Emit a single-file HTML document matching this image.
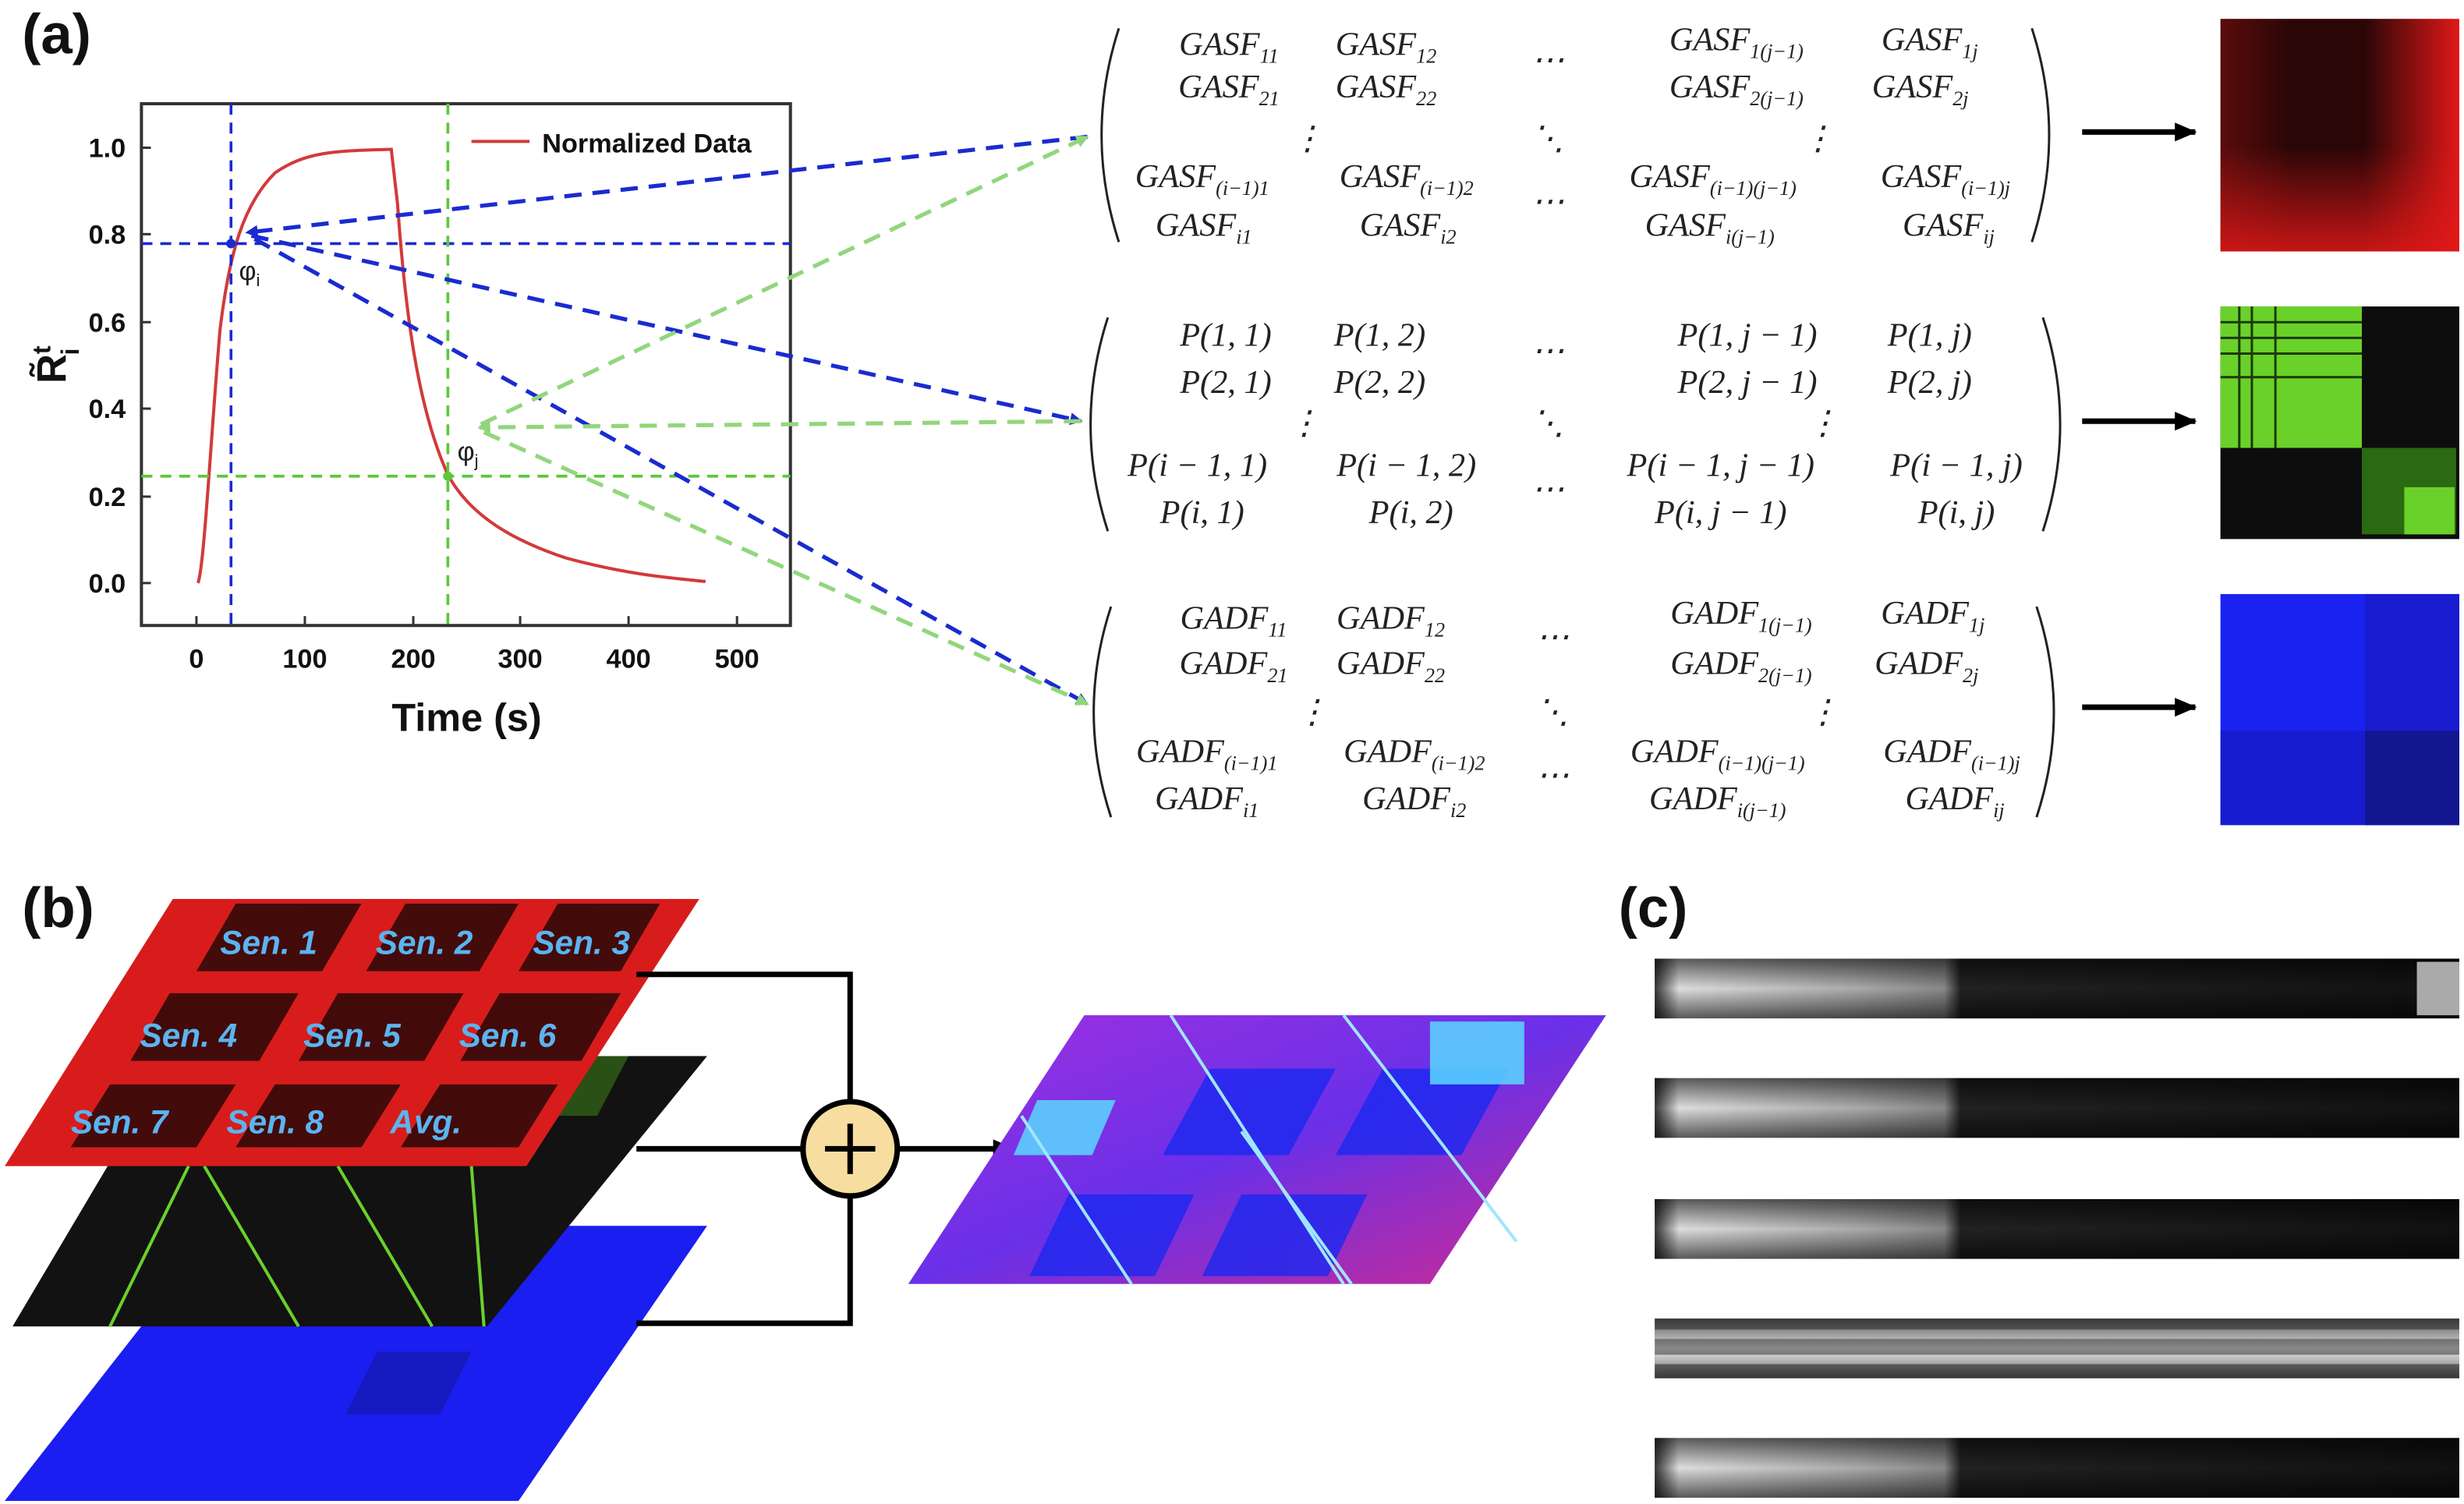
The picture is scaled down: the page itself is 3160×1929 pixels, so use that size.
<!DOCTYPE html>
<html><head><meta charset="utf-8"><style>
html,body{margin:0;padding:0;background:#fff;}
svg{display:block;}
.m{font-family:"Liberation Serif",serif;font-style:italic;font-size:21px;fill:#222;}
.s{font-size:13px;}
.lab{font-family:"Liberation Sans",sans-serif;font-weight:bold;font-size:36px;fill:#111;}
.tk{font-family:"Liberation Sans",sans-serif;font-weight:bold;font-size:17px;fill:#111;}
.sen{font-family:"Liberation Sans",sans-serif;font-weight:bold;font-style:italic;font-size:21px;fill:#5ab4f0;}
</style></head><body>
<svg width="3160" height="1929" viewBox="0 0 1568 957" preserveAspectRatio="none" xmlns="http://www.w3.org/2000/svg">
<defs>
<marker id="ab" markerWidth="8" markerHeight="8" refX="7" refY="4" orient="auto" markerUnits="userSpaceOnUse"><path d="M0,0 L8,4 L0,8 Z" fill="#1a2bd0"/></marker>
<marker id="ag" markerWidth="8" markerHeight="8" refX="7" refY="4" orient="auto" markerUnits="userSpaceOnUse"><path d="M0,0 L8,4 L0,8 Z" fill="#8fd67a"/></marker>
<marker id="ak" markerWidth="14" markerHeight="14" refX="13" refY="7" orient="auto" markerUnits="userSpaceOnUse"><path d="M0,1 L14,7 L0,13 Z" fill="#000"/></marker>
<linearGradient id="rgx" x1="0" x2="1"><stop offset="0" stop-color="#5a0c0c"/><stop offset="0.3" stop-color="#2a0606"/><stop offset="0.6" stop-color="#2a0606"/><stop offset="1" stop-color="#e01818"/></linearGradient>
<linearGradient id="rgy" x1="0" y1="0" x2="0" y2="1"><stop offset="0" stop-color="#e01818" stop-opacity="0"/><stop offset="0.55" stop-color="#e01818" stop-opacity="0"/><stop offset="1" stop-color="#e01818" stop-opacity="0.85"/></linearGradient>
<linearGradient id="gs1" x1="0" x2="1"><stop offset="0" stop-color="#333"/><stop offset="0.03" stop-color="#ddd"/><stop offset="0.25" stop-color="#aaa"/><stop offset="0.36" stop-color="#888"/><stop offset="0.38" stop-color="#222"/><stop offset="1" stop-color="#111"/></linearGradient>
<linearGradient id="gv" x1="0" y1="0" x2="0" y2="1"><stop offset="0" stop-color="#000" stop-opacity="0.6"/><stop offset="0.5" stop-color="#000" stop-opacity="0"/><stop offset="1" stop-color="#000" stop-opacity="0.6"/></linearGradient>
<linearGradient id="fus" x1="0" y1="0" x2="1" y2="1"><stop offset="0" stop-color="#a030e0"/><stop offset="0.5" stop-color="#6a30e8"/><stop offset="1" stop-color="#d02a90"/></linearGradient>
</defs>

<text class="lab" x="14" y="34">(a)</text>
<text class="lab" x="14" y="590">(b)</text>
<text class="lab" x="1030" y="590">(c)</text>

<rect x="90" y="66" width="413" height="332" fill="none" stroke="#333" stroke-width="2"/>
<g class="tk" text-anchor="end">
<text x="80" y="100">1.0</text><text x="80" y="155">0.8</text><text x="80" y="211">0.6</text><text x="80" y="266">0.4</text><text x="80" y="322">0.2</text><text x="80" y="377">0.0</text>
</g>
<g stroke="#333" stroke-width="1.5">
<line x1="90" y1="94" x2="96" y2="94"/><line x1="90" y1="149" x2="96" y2="149"/><line x1="90" y1="205" x2="96" y2="205"/><line x1="90" y1="260" x2="96" y2="260"/><line x1="90" y1="316" x2="96" y2="316"/><line x1="90" y1="371" x2="96" y2="371"/>
<line x1="125" y1="398" x2="125" y2="392"/><line x1="194" y1="398" x2="194" y2="392"/><line x1="263" y1="398" x2="263" y2="392"/><line x1="331" y1="398" x2="331" y2="392"/><line x1="400" y1="398" x2="400" y2="392"/><line x1="469" y1="398" x2="469" y2="392"/>
</g>
<g class="tk" text-anchor="middle">
<text x="125" y="425">0</text><text x="194" y="425">100</text><text x="263" y="425">200</text><text x="331" y="425">300</text><text x="400" y="425">400</text><text x="469" y="425">500</text>
</g>
<text x="297" y="465" text-anchor="middle" font-family="Liberation Sans,sans-serif" font-weight="bold" font-size="25" fill="#111">Time (s)</text>
<text transform="translate(42,232) rotate(-90)" text-anchor="middle" font-family="Liberation Sans,sans-serif" font-weight="bold" font-size="26" fill="#111">R̃<tspan font-size="16" dy="-10">t</tspan><tspan font-size="16" dx="-6" dy="18">i</tspan></text>
<line x1="300" y1="90" x2="337" y2="90" stroke="#d23a3a" stroke-width="2"/>
<text x="345" y="97" font-family="Liberation Sans,sans-serif" font-weight="bold" font-size="17" fill="#111">Normalized Data</text>
<path d="M126,371 C130,360 134,280 140,210 C146,160 155,130 175,110 C195,96 215,96 249,95 L253,130 C258,200 266,260 285,302 C300,330 330,345 360,355 C400,366 430,368 449,370" fill="none" stroke="#d23a3a" stroke-width="2"/>
<g stroke-dasharray="7,5" stroke-width="1.8" fill="none">
<line x1="147" y1="66" x2="147" y2="398" stroke="#1a2bd0"/>
<line x1="90" y1="155" x2="503" y2="155" stroke="#1a2bd0"/>
<line x1="285" y1="66" x2="285" y2="398" stroke="#5cc83a"/>
<line x1="90" y1="303" x2="503" y2="303" stroke="#5cc83a"/>
</g>
<circle cx="147" cy="155" r="3" fill="#1a2bd0"/><circle cx="285" cy="303" r="3" fill="#5cc83a"/>
<text x="152" y="178" font-family="Liberation Sans,sans-serif" font-size="17" fill="#222">φ<tspan font-size="11" dy="4">i</tspan></text>
<text x="291" y="293" font-family="Liberation Sans,sans-serif" font-size="17" fill="#222">φ<tspan font-size="11" dy="4">j</tspan></text>

<g stroke-dasharray="11,7" stroke-width="2.6" fill="none">
<line x1="692" y1="87" x2="157" y2="148" stroke="#1a2bd0" marker-end="url(#ab)"/>
<line x1="160" y1="150" x2="688" y2="268" stroke="#1a2bd0" marker-end="url(#ab)"/>
<line x1="162" y1="152" x2="692" y2="448" stroke="#1a2bd0" marker-end="url(#ab)"/>
<line x1="306" y1="270" x2="692" y2="87" stroke="#92d67c" marker-end="url(#ag)"/>
<line x1="688" y1="268" x2="305" y2="272" stroke="#92d67c" marker-end="url(#ag)"/>
<line x1="308" y1="275" x2="692" y2="448" stroke="#92d67c" marker-end="url(#ag)"/>
</g>

<g fill="none" stroke="#222" stroke-width="1.5">
<path d="M712,18 Q690,86 712,154"/><path d="M1293,18 Q1315,86 1293,154"/>
<path d="M705,202 Q683,270 705,338"/><path d="M1300,202 Q1322,270 1300,338"/>
<path d="M707,386 Q685,453 707,520"/><path d="M1296,386 Q1318,453 1296,520"/>
</g>
<g class="m" text-anchor="middle">
<text x="782" y="35">GASF<tspan class="s" dy="5">11</tspan></text>
<text x="882" y="35">GASF<tspan class="s" dy="5">12</tspan></text>
<text x="985" y="45">⋯</text>
<text x="1105" y="32">GASF<tspan class="s" dy="5">1(j−1)</tspan></text>
<text x="1228" y="32">GASF<tspan class="s" dy="5">1j</tspan></text>
<text x="782" y="62">GASF<tspan class="s" dy="5">21</tspan></text>
<text x="882" y="62">GASF<tspan class="s" dy="5">22</tspan></text>
<text x="1105" y="62">GASF<tspan class="s" dy="5">2(j−1)</tspan></text>
<text x="1222" y="62">GASF<tspan class="s" dy="5">2j</tspan></text>
<text x="832" y="95">⋮</text><text x="985" y="95">⋱</text><text x="1157" y="95">⋮</text>
<text x="765" y="119">GASF<tspan class="s" dy="5">(i−1)1</tspan></text>
<text x="895" y="119">GASF<tspan class="s" dy="5">(i−1)2</tspan></text>
<text x="985" y="135">⋯</text>
<text x="1090" y="119">GASF<tspan class="s" dy="5">(i−1)(j−1)</tspan></text>
<text x="1238" y="119">GASF<tspan class="s" dy="5">(i−1)j</tspan></text>
<text x="766" y="150">GASF<tspan class="s" dy="5">i1</tspan></text>
<text x="896" y="150">GASF<tspan class="s" dy="5">i2</tspan></text>
<text x="1088" y="150">GASF<tspan class="s" dy="5">i(j−1)</tspan></text>
<text x="1240" y="150">GASF<tspan class="s" dy="5">ij</tspan></text>

<text x="780" y="220">P(1, 1)</text><text x="878" y="220">P(1, 2)</text><text x="985" y="230">⋯</text>
<text x="1112" y="220">P(1, j − 1)</text><text x="1228" y="220">P(1, j)</text>
<text x="780" y="250">P(2, 1)</text><text x="878" y="250">P(2, 2)</text>
<text x="1112" y="250">P(2, j − 1)</text><text x="1228" y="250">P(2, j)</text>
<text x="830" y="276">⋮</text><text x="985" y="276">⋱</text><text x="1160" y="276">⋮</text>
<text x="762" y="303">P(i − 1, 1)</text><text x="895" y="303">P(i − 1, 2)</text><text x="985" y="318">⋯</text>
<text x="1095" y="303">P(i − 1, j − 1)</text><text x="1245" y="303">P(i − 1, j)</text>
<text x="765" y="333">P(i, 1)</text><text x="898" y="333">P(i, 2)</text>
<text x="1095" y="333">P(i, j − 1)</text><text x="1245" y="333">P(i, j)</text>

<text x="785" y="400">GADF<tspan class="s" dy="5">11</tspan></text>
<text x="885" y="400">GADF<tspan class="s" dy="5">12</tspan></text>
<text x="988" y="412">⋯</text>
<text x="1108" y="397">GADF<tspan class="s" dy="5">1(j−1)</tspan></text>
<text x="1230" y="397">GADF<tspan class="s" dy="5">1j</tspan></text>
<text x="785" y="429">GADF<tspan class="s" dy="5">21</tspan></text>
<text x="885" y="429">GADF<tspan class="s" dy="5">22</tspan></text>
<text x="1108" y="429">GADF<tspan class="s" dy="5">2(j−1)</tspan></text>
<text x="1226" y="429">GADF<tspan class="s" dy="5">2j</tspan></text>
<text x="835" y="460">⋮</text><text x="988" y="460">⋱</text><text x="1160" y="460">⋮</text>
<text x="768" y="485">GADF<tspan class="s" dy="5">(i−1)1</tspan></text>
<text x="900" y="485">GADF<tspan class="s" dy="5">(i−1)2</tspan></text>
<text x="988" y="500">⋯</text>
<text x="1093" y="485">GADF<tspan class="s" dy="5">(i−1)(j−1)</tspan></text>
<text x="1242" y="485">GADF<tspan class="s" dy="5">(i−1)j</tspan></text>
<text x="768" y="515">GADF<tspan class="s" dy="5">i1</tspan></text>
<text x="900" y="515">GADF<tspan class="s" dy="5">i2</tspan></text>
<text x="1093" y="515">GADF<tspan class="s" dy="5">i(j−1)</tspan></text>
<text x="1244" y="515">GADF<tspan class="s" dy="5">ij</tspan></text>
</g>

<g stroke="#000" stroke-width="3.5" marker-end="url(#ak)">
<line x1="1325" y1="84" x2="1397" y2="84"/><line x1="1325" y1="268" x2="1397" y2="268"/><line x1="1325" y1="450" x2="1397" y2="450"/>
</g>

<rect x="1413" y="12" width="152" height="148" fill="url(#rgx)"/>
<rect x="1413" y="12" width="152" height="148" fill="url(#rgy)"/>
<rect x="1413" y="195" width="152" height="148" fill="#0d0d0d"/>
<rect x="1413" y="195" width="90" height="90" fill="#6ad12a"/>
<g stroke="#1a3a08" stroke-width="1.5"><line x1="1413" y1="205" x2="1503" y2="205"/><line x1="1413" y1="215" x2="1503" y2="215"/><line x1="1413" y1="225" x2="1503" y2="225"/><line x1="1413" y1="240" x2="1503" y2="240"/><line x1="1425" y1="195" x2="1425" y2="285"/><line x1="1433" y1="195" x2="1433" y2="285"/><line x1="1448" y1="195" x2="1448" y2="285"/></g>
<rect x="1503" y="285" width="60" height="55" fill="#2a6a12"/>
<rect x="1530" y="310" width="32" height="30" fill="#6ad12a"/>
<rect x="1413" y="378" width="152" height="147" fill="#1a22f0"/>
<rect x="1505" y="378" width="60" height="147" fill="#1a1cd0"/>
<rect x="1413" y="465" width="152" height="60" fill="#161cc8" opacity="0.8"/>
<rect x="1505" y="465" width="60" height="60" fill="#121690"/>

<polygon points="140,780 450,780 330,955 3,955" fill="#1a1ef0"/>
<polygon points="240,860 300,860 280,900 220,900" fill="#1418a0" opacity="0.6"/>
<polygon points="110,672 450,672 310,844 8,844" fill="#121212"/>
<g stroke="#6ad12a" stroke-width="2"><line x1="120" y1="742" x2="70" y2="844"/><line x1="215" y1="742" x2="275" y2="844"/><line x1="300" y1="742" x2="308" y2="844"/><line x1="130" y1="742" x2="190" y2="844"/></g>
<polygon points="350,672 400,672 380,710 335,710" fill="#3a7a18" opacity="0.6"/>
<polygon points="110,572 445,572 335,742 3,742" fill="#d81c1c"/>
<g fill="#2a0808" opacity="0.85">
<polygon points="150,575 230,575 205,618 125,618"/><polygon points="258,575 330,575 305,618 233,618"/><polygon points="355,575 420,575 395,618 330,618"/>
<polygon points="108,632 190,632 165,675 83,675"/><polygon points="215,632 295,632 270,675 190,675"/><polygon points="318,632 395,632 370,675 293,675"/>
<polygon points="70,690 150,690 125,730 45,730"/><polygon points="175,690 255,690 230,730 150,730"/><polygon points="280,690 355,690 330,730 255,730"/>
</g>
<g class="sen" text-anchor="middle">
<text x="171" y="607">Sen. 1</text><text x="270" y="607">Sen. 2</text><text x="370" y="607">Sen. 3</text>
<text x="120" y="666">Sen. 4</text><text x="224" y="666">Sen. 5</text><text x="323" y="666">Sen. 6</text>
<text x="76" y="721">Sen. 7</text><text x="175" y="721">Sen. 8</text><text x="271" y="721">Avg.</text>
</g>
<g stroke="#000" stroke-width="3.5" fill="none">
<polyline points="405,620 541,620 541,700"/><polyline points="405,842 541,842 541,762"/>
<line x1="405" y1="731" x2="511" y2="731"/>
<line x1="571" y1="731" x2="645" y2="731" marker-end="url(#ak)"/>
</g>
<circle cx="541" cy="731" r="30" fill="#f7dda0" stroke="#000" stroke-width="3.5"/>
<line x1="525" y1="731" x2="557" y2="731" stroke="#000" stroke-width="3.5"/><line x1="541" y1="715" x2="541" y2="747" stroke="#000" stroke-width="3.5"/>

<polygon points="690,646 1022,646 910,817 578,817" fill="url(#fus)"/>
<g fill="#1a28f0" opacity="0.8"><polygon points="770,680 850,680 820,735 740,735"/><polygon points="880,680 960,680 930,735 850,735"/><polygon points="680,760 760,760 735,812 655,812"/><polygon points="790,760 870,760 845,812 765,812"/></g>
<g fill="#5ad8ff" opacity="0.85"><rect x="910" y="650" width="60" height="40"/><polygon points="660,700 710,700 695,735 645,735"/></g>
<g stroke="#9fe6ff" stroke-width="2"><line x1="745" y1="646" x2="855" y2="817"/><line x1="855" y1="646" x2="965" y2="790"/><line x1="650" y1="710" x2="720" y2="817"/><line x1="790" y1="720" x2="860" y2="817"/></g>

<g>
<rect x="1053" y="610" width="512" height="38" fill="url(#gs1)"/><rect x="1053" y="610" width="512" height="38" fill="url(#gv)"/>
<rect x="1538" y="612" width="27" height="34" fill="#aaa"/>
<rect x="1053" y="686" width="512" height="38" fill="url(#gs1)"/><rect x="1053" y="686" width="512" height="38" fill="url(#gv)"/>
<rect x="1053" y="763" width="512" height="38" fill="url(#gs1)"/><rect x="1053" y="763" width="512" height="38" fill="url(#gv)"/>
<rect x="1053" y="839" width="512" height="38" fill="#888"/><rect x="1053" y="846" width="512" height="6" fill="#ddd"/><rect x="1053" y="862" width="512" height="6" fill="#eee"/><rect x="1053" y="839" width="512" height="38" fill="url(#gv)"/>
<rect x="1053" y="915" width="512" height="38" fill="url(#gs1)"/><rect x="1053" y="915" width="512" height="38" fill="url(#gv)"/>
</g>
</svg>
</body></html>
